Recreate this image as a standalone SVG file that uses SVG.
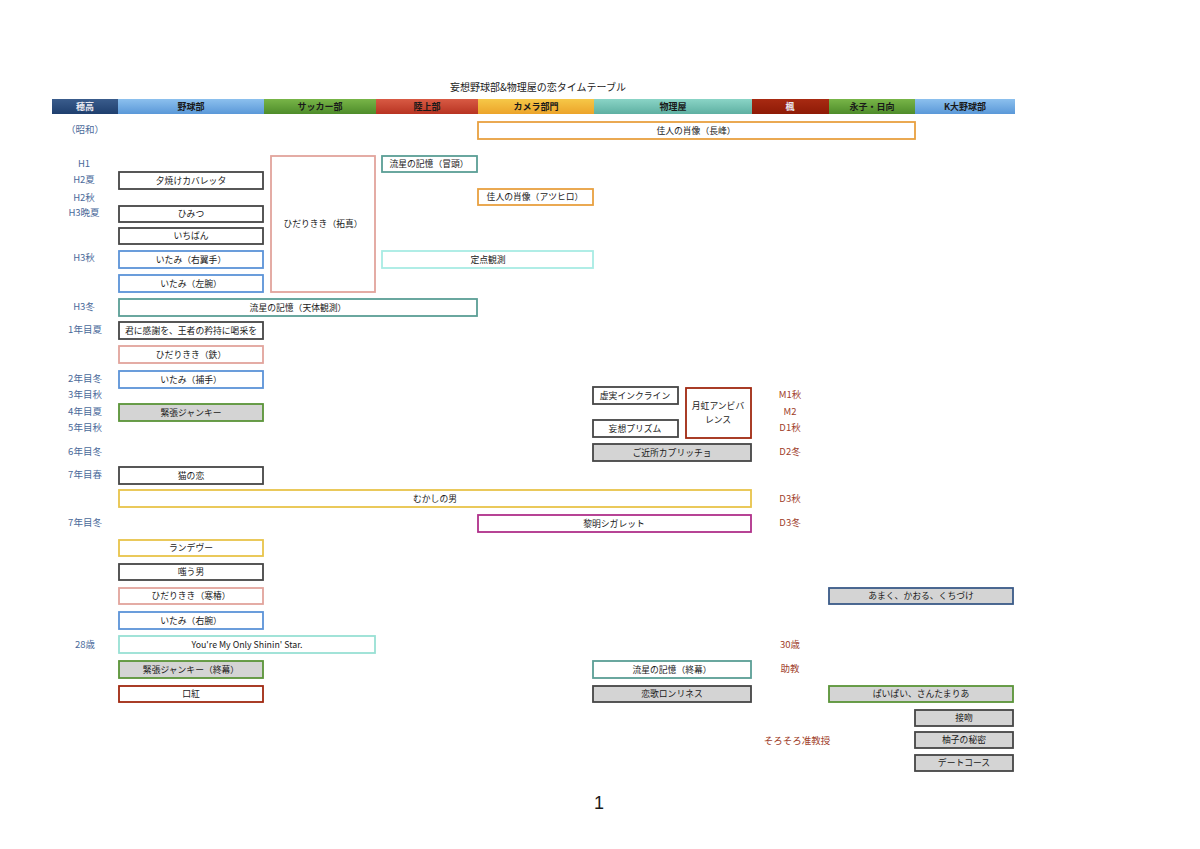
<svg xmlns="http://www.w3.org/2000/svg" width="1200" height="849" viewBox="0 0 1200 849">
<defs>
<linearGradient id="gNavy" x1="0" y1="0" x2="0" y2="1"><stop offset="0" stop-color="#3a5c8c"/><stop offset="1" stop-color="#1f3f6e"/></linearGradient>
<linearGradient id="gBlue" x1="0" y1="0" x2="0" y2="1"><stop offset="0" stop-color="#8cc0ee"/><stop offset="1" stop-color="#5a98d8"/></linearGradient>
<linearGradient id="gGreen" x1="0" y1="0" x2="0" y2="1"><stop offset="0" stop-color="#78b548"/><stop offset="1" stop-color="#4e8c2a"/></linearGradient>
<linearGradient id="gRed" x1="0" y1="0" x2="0" y2="1"><stop offset="0" stop-color="#d85a44"/><stop offset="1" stop-color="#b83422"/></linearGradient>
<linearGradient id="gOrange" x1="0" y1="0" x2="0" y2="1"><stop offset="0" stop-color="#f6c848"/><stop offset="1" stop-color="#eca42a"/></linearGradient>
<linearGradient id="gTeal" x1="0" y1="0" x2="0" y2="1"><stop offset="0" stop-color="#8ad4c6"/><stop offset="1" stop-color="#5eb0a2"/></linearGradient>
<linearGradient id="gMaroon" x1="0" y1="0" x2="0" y2="1"><stop offset="0" stop-color="#a82a12"/><stop offset="1" stop-color="#8e1a06"/></linearGradient>
</defs>
<style>
text{font-family:"Noto Sans CJK JP","Liberation Sans",sans-serif;}
.hd{font-size:9px;font-weight:bold;fill:#1a1a1a;text-anchor:middle;}
.hdw{font-size:9px;font-weight:bold;fill:#e8e8f0;text-anchor:middle;}
.bt{font-size:8.8px;fill:#1a1a1a;text-anchor:middle;}
.ll{font-size:9.5px;fill:#4a6a9a;text-anchor:middle;}
.rl{font-size:9.5px;fill:#a0402a;text-anchor:middle;}
rect.b{fill:#ffffff;stroke-width:1.8;}
rect.f{fill:#d4d4d4;}
.dk{stroke:#454545;}
.bl{stroke:#5b93d8;}
.pk{stroke:#e2a49c;}
.tl{stroke:#5a9e95;}
.cy{stroke:#a8ece4;}
.or{stroke:#e8a040;}
.yl{stroke:#e8c44a;}
.mg{stroke:#b0308a;}
.gn{stroke:#5a9438;}
.rd{stroke:#a02810;}
.nv{stroke:#3a5a88;}
.st{stroke:#98e0d4;}
</style>
<rect width="1200" height="849" fill="#ffffff"/>
<text x="538" y="91" style="font-size:10px;fill:#1a1a1a;text-anchor:middle;">妄想野球部&amp;物理屋の恋タイムテーブル</text>

<g id="header">
<rect x="52" y="99" width="66" height="15" fill="url(#gNavy)"/>
<rect x="118" y="99" width="146" height="15" fill="url(#gBlue)"/>
<rect x="264" y="99" width="112" height="15" fill="url(#gGreen)"/>
<rect x="376" y="99" width="102" height="15" fill="url(#gRed)"/>
<rect x="478" y="99" width="116" height="15" fill="url(#gOrange)"/>
<rect x="594" y="99" width="158" height="15" fill="url(#gTeal)"/>
<rect x="752" y="99" width="77" height="15" fill="url(#gMaroon)"/>
<rect x="829" y="99" width="86" height="15" fill="url(#gGreen)"/>
<rect x="915" y="99" width="100" height="15" fill="url(#gBlue)"/>
<text class="hdw" x="85" y="110">穂高</text>
<text class="hd" x="191" y="110">野球部</text>
<text class="hd" x="320" y="110">サッカー部</text>
<text class="hd" x="427" y="110">陸上部</text>
<text class="hd" x="536" y="110">カメラ部門</text>
<text class="hd" x="673" y="110">物理屋</text>
<text class="hdw" x="790" y="110">楓</text>
<text class="hd" x="872" y="110">永子・日向</text>
<text class="hd" x="965" y="110">K大野球部</text>
</g>

<g id="left-labels">
<text class="ll" x="85" y="133">（昭和）</text>
<text class="ll" x="84" y="167">H1</text>
<text class="ll" x="84" y="183">H2夏</text>
<text class="ll" x="84" y="201">H2秋</text>
<text class="ll" x="84" y="216">H3晩夏</text>
<text class="ll" x="84" y="261">H3秋</text>
<text class="ll" x="84" y="310">H3冬</text>
<text class="ll" x="85" y="333">1年目夏</text>
<text class="ll" x="85" y="382">2年目冬</text>
<text class="ll" x="85" y="398">3年目秋</text>
<text class="ll" x="85" y="415">4年目夏</text>
<text class="ll" x="85" y="431">5年目秋</text>
<text class="ll" x="85" y="455">6年目冬</text>
<text class="ll" x="85" y="478">7年目春</text>
<text class="ll" x="85" y="526">7年目冬</text>
<text class="ll" x="85" y="648">28歳</text>
</g>

<g id="right-labels">
<text class="rl" x="790" y="398">M1秋</text>
<text class="rl" x="790" y="415">M2</text>
<text class="rl" x="790" y="431">D1秋</text>
<text class="rl" x="790" y="455">D2冬</text>
<text class="rl" x="790" y="502">D3秋</text>
<text class="rl" x="790" y="526">D3冬</text>
<text class="rl" x="790" y="648">30歳</text>
<text class="rl" x="790" y="672">助教</text>
<text class="rl" x="797" y="744">そろそろ准教授</text>
</g>

<g id="n-kajin-nagamine"><rect class="b or" x="478" y="122" width="437" height="17"/><text class="bt" x="696" y="134">佳人の肖像（長峰）</text></g>
<g id="n-ryusei-bouto"><rect class="b tl" x="382" y="156" width="95" height="16"/><text class="bt" x="429" y="167">流星の記憶（冒頭）</text></g>
<g id="n-hidari-takuma"><rect class="b pk" x="271" y="156" width="104" height="136"/><text class="bt" x="323" y="227">ひだりきき（拓真）</text></g>
<g id="n-yuyake"><rect class="b dk" x="119" y="172" width="144" height="17"/><text class="bt" x="191" y="184">夕焼けカバレッタ</text></g>
<g id="n-kajin-atsuhiro"><rect class="b or" x="478" y="189" width="115" height="16"/><text class="bt" x="535" y="200">佳人の肖像（アツヒロ）</text></g>
<g id="n-himitsu"><rect class="b dk" x="119" y="206" width="144" height="16"/><text class="bt" x="191" y="217">ひみつ</text></g>
<g id="n-ichiban"><rect class="b dk" x="119" y="228" width="144" height="16"/><text class="bt" x="191" y="239">いちばん</text></g>
<g id="n-itami-uyokushu"><rect class="b bl" x="119" y="251" width="144" height="17"/><text class="bt" x="191" y="263">いたみ（右翼手）</text></g>
<g id="n-teiten"><rect class="b cy" x="382" y="251" width="211" height="17"/><text class="bt" x="488" y="263">定点観測</text></g>
<g id="n-itami-sawan"><rect class="b bl" x="119" y="275" width="144" height="17"/><text class="bt" x="191" y="287">いたみ（左腕）</text></g>
<g id="n-ryusei-tentai"><rect class="b tl" x="119" y="299" width="358" height="17"/><text class="bt" x="298" y="311">流星の記憶（天体観測）</text></g>
<g id="n-kimini"><rect class="b dk" x="119" y="322" width="144" height="17"/><text class="bt" x="191" y="334" textLength="132" lengthAdjust="spacingAndGlyphs">君に感謝を、王者の矜持に喝采を</text></g>
<g id="n-hidari-tetsu"><rect class="b pk" x="119" y="346" width="144" height="17"/><text class="bt" x="191" y="358">ひだりきき（鉄）</text></g>
<g id="n-itami-hoshu"><rect class="b bl" x="119" y="371" width="144" height="17"/><text class="bt" x="191" y="383">いたみ（捕手）</text></g>
<g id="n-kyojitsu"><rect class="b dk" x="593" y="387" width="85" height="17"/><text class="bt" x="635" y="399">虚実インクライン</text></g>
<g id="n-gekko"><rect class="b rd" x="686" y="388" width="65" height="50"/><text class="bt" x="718" y="409">月虹アンビバ</text><text class="bt" x="718" y="423">レンス</text></g>
<g id="n-kincho"><rect class="b f gn" x="119" y="404" width="144" height="17"/><text class="bt" x="191" y="416">緊張ジャンキー</text></g>
<g id="n-mousou-prism"><rect class="b dk" x="593" y="420" width="85" height="17"/><text class="bt" x="635" y="432">妄想プリズム</text></g>
<g id="n-gokinjo"><rect class="b f dk" x="593" y="444" width="158" height="17"/><text class="bt" x="672" y="456">ご近所カプリッチョ</text></g>
<g id="n-neko"><rect class="b dk" x="119" y="467" width="144" height="17"/><text class="bt" x="191" y="479">猫の恋</text></g>
<g id="n-mukashi"><rect class="b yl" x="119" y="490" width="632" height="17"/><text class="bt" x="435" y="502">むかしの男</text></g>
<g id="n-reimei"><rect class="b mg" x="478" y="515" width="273" height="17"/><text class="bt" x="614" y="527">黎明シガレット</text></g>
<g id="n-rendezvous"><rect class="b yl" x="119" y="540" width="144" height="16"/><text class="bt" x="191" y="551">ランデヴー</text></g>
<g id="n-warau"><rect class="b dk" x="119" y="564" width="144" height="16"/><text class="bt" x="191" y="575">嗤う男</text></g>
<g id="n-hidari-kantsubaki"><rect class="b pk" x="119" y="588" width="144" height="16"/><text class="bt" x="191" y="599">ひだりきき（寒椿）</text></g>
<g id="n-amaku"><rect class="b f nv" x="829" y="588" width="184" height="16"/><text class="bt" x="921" y="599">あまく、かおる、くちづけ</text></g>
<g id="n-itami-uwan"><rect class="b bl" x="119" y="612" width="144" height="17"/><text class="bt" x="191" y="624">いたみ（右腕）</text></g>
<g id="n-shinin"><rect class="b st" x="119" y="636" width="256" height="17"/><text class="bt" x="247" y="648">You're My Only Shinin' Star.</text></g>
<g id="n-kincho-shumaku"><rect class="b f gn" x="119" y="661" width="144" height="17"/><text class="bt" x="191" y="673">緊張ジャンキー（終幕）</text></g>
<g id="n-ryusei-shumaku"><rect class="b tl" x="593" y="661" width="158" height="17"/><text class="bt" x="672" y="673">流星の記憶（終幕）</text></g>
<g id="n-kuchibeni"><rect class="b rd" x="119" y="686" width="144" height="16"/><text class="bt" x="191" y="697">口紅</text></g>
<g id="n-renka"><rect class="b f dk" x="593" y="686" width="158" height="16"/><text class="bt" x="672" y="697">恋歌ロンリネス</text></g>
<g id="n-paipai"><rect class="b f gn" x="829" y="686" width="184" height="16"/><text class="bt" x="921" y="697">ぱいぱい、さんたまりあ</text></g>
<g id="n-seppun"><rect class="b f dk" x="915" y="710" width="98" height="16"/><text class="bt" x="964" y="721">接吻</text></g>
<g id="n-yuzu"><rect class="b f dk" x="915" y="732" width="98" height="16"/><text class="bt" x="964" y="743">柚子の秘密</text></g>
<g id="n-date"><rect class="b f dk" x="915" y="755" width="98" height="16"/><text class="bt" x="964" y="766">デートコース</text></g>

<g id="connectors"></g>

<text x="599" y="809" style="font-size:18px;fill:#1a1a1a;text-anchor:middle;font-family:'Liberation Sans',sans-serif;">1</text>
</svg>
